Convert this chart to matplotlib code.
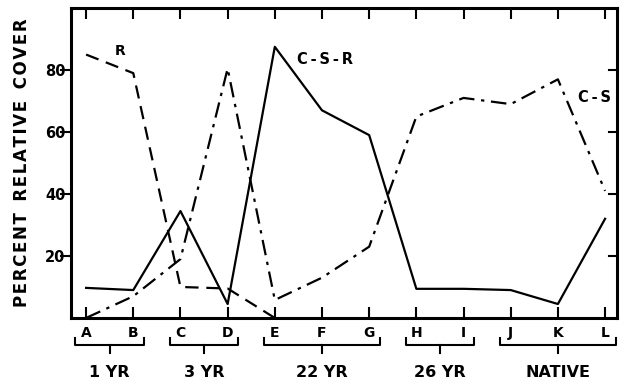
import matplotlib
matplotlib.use("Agg")
import matplotlib.pyplot as plt
from matplotlib.transforms import blended_transform_factory

sites = ["A", "B", "C", "D", "E", "F", "G", "H", "I", "J", "K", "L"]
r_sites = ["A", "B", "C", "D", "E"]
r_values = [85, 79, 10, 9.5, 0]
cs_values = [0, 7, 19, 80.5, 5.8, 13, 23, 65, 71, 69, 77, 41]
csr_values = [9.7, 9, 34.5, 4.5, 87.5, 67, 59, 9.4, 9.4, 9, 4.5, 32]
groups = ["1 YR", "3 YR", "22 YR", "26 YR", "NATIVE"]
group_members = [["A", "B"], ["C", "D"], ["E", "F", "G"], ["H", "I"], ["J", "K", "L"]]
yticks = [20, 40, 60, 80]

fig = plt.figure(figsize=(6.25, 3.84), dpi=100)
ax = fig.add_axes([0.1136, 0.172, 0.987 - 0.1136, 0.979 - 0.172])

xpos = {s: i for i, s in enumerate(sites)}
ax.plot([xpos[s] for s in r_sites], r_values, color="black", lw=1.6,
        linestyle=(0, (6, 3.5)), solid_capstyle="butt")
ax.plot(range(len(sites)), cs_values, color="black", lw=1.6,
        linestyle=(0, (7, 3, 1.5, 3)))
ax.plot(range(len(sites)), csr_values, color="black", lw=1.6)

ax.set_xlim(-0.32, 11.25)
ax.set_ylim(0, 100)

for sp in ax.spines.values():
    sp.set_linewidth(2.2)

ax.set_xticks(range(len(sites)))
ax.set_xticklabels(sites)
ax.set_yticks(yticks)
ax.set_yticklabels([str(v) for v in yticks])
ax.tick_params(axis="x", direction="in", length=8, width=1.5, top=True,
               labelsize=10, pad=6)
ax.tick_params(axis="y", direction="in", length=0, width=1.5, labelsize=10.5, pad=4)
for t in ax.get_xticklabels() + ax.get_yticklabels():
    t.set_fontweight("bold")

# left ticks outward, right ticks inward
trans_y = blended_transform_factory(ax.transAxes, ax.transData)
for v in yticks:
    ax.plot([-0.018, 0.0], [v, v], color="black", lw=1.5, transform=trans_y, clip_on=False)
    ax.plot([0.985, 1.0], [v, v], color="black", lw=1.5, transform=trans_y, clip_on=False)

hs = "\u200a"
ylab = "  ".join(hs.join(w) for w in ["PERCENT", "RELATIVE", "COVER"])
ax.set_ylabel(ylab, fontsize=12, fontweight="bold", labelpad=10)

# series labels
sp2 = "\u2009"
ax.text(0.72, 86, "R", fontsize=10, fontweight="bold", ha="center", va="center")
ax.text(4.47, 83.5, f"C{sp2}-{sp2}S{sp2}-{sp2}R", fontsize=10.5, fontweight="bold",
        ha="left", va="center")
ax.text(10.42, 71, f"C{sp2}-{sp2}S", fontsize=10.5, fontweight="bold", ha="left", va="center")

# group brackets
tb = blended_transform_factory(ax.transData, ax.transAxes)
y_br, y_hook, y_stem = -0.088, -0.066, -0.112
for name, mem in zip(groups, group_members):
    x0 = xpos[mem[0]] - 0.23
    x1 = xpos[mem[-1]] + 0.23
    xm = (x0 + x1) / 2
    ax.plot([x0, x0, x1, x1], [y_hook, y_br, y_br, y_hook], color="black", lw=1.5,
            transform=tb, clip_on=False)
    ax.plot([xm, xm], [y_br, y_stem], color="black", lw=1.5, transform=tb, clip_on=False)
    ax.text(xm, -0.175, name, transform=tb, ha="center", va="center",
            fontsize=11.5, fontweight="bold")

fig.savefig("out.png", dpi=100)
